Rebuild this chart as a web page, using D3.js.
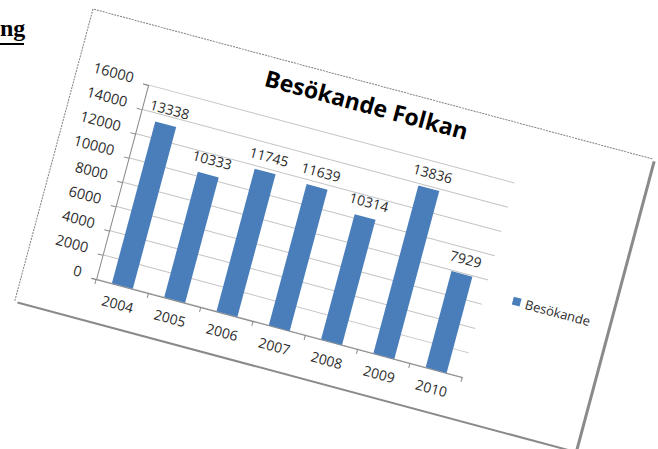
<!DOCTYPE html>
<html>
<head>
<meta charset="utf-8">
<script src="https://cdn.jsdelivr.net/npm/d3@7"></script>
<style>
  body { margin: 0; background: #fff; }
  svg { display: block; }
</style>
</head>
<body>
<div id="chart"></div>
<script>
// Data
const years = ['2004', '2005', '2006', '2007', '2008', '2009', '2010'];
const visitors = [13338, 10333, 11745, 11639, 10314, 13836, 7929];
const yTicks = [0, 2000, 4000, 6000, 8000, 10000, 12000, 14000, 16000];
const seriesName = 'Besökande';
const chartTitle = 'Besökande Folkan';

const W = 658, H = 449;
const frameW = 580, frameH = 302;
const plot = { left: 73, right: 452, top: 59, bottom: 260 };

const svg = d3.select('#chart')
    .append('svg')
    .attr('width', W)
    .attr('height', H);

// Cut-off heading at the top left
svg.append('text')
    .attr('x', 0)
    .attr('y', 36)
    .style('font-family', '"Liberation Serif", serif')
    .style('font-weight', 'bold')
    .style('font-size', '24px')
    .style('fill', '#000')
    .text('ng');
svg.append('rect')
    .attr('x', 0)
    .attr('y', 43)
    .attr('width', 24)
    .attr('height', 2)
    .attr('fill', '#000');

// Rotated chart picture
const g = svg.append('g')
    .attr('transform', 'translate(93,9) rotate(15)');

// shadow + frame
g.append('rect')
    .attr('x', 3).attr('y', 2)
    .attr('width', frameW).attr('height', frameH)
    .attr('fill', '#8a8a8a');
g.append('rect')
    .attr('width', frameW).attr('height', frameH)
    .attr('fill', '#fff');
g.append('path')
    .attr('d', `M0,${frameH} L0,0 L${frameW},0`)
    .attr('fill', 'none')
    .attr('stroke', '#808080')
    .attr('stroke-width', 1)
    .attr('stroke-dasharray', '2,1');

// Scales
const x = d3.scaleBand()
    .domain(years)
    .range([plot.left, plot.right])
    .paddingInner(0.6)
    .paddingOuter(0.3);
const band = (plot.right - plot.left) / years.length;

const y = d3.scaleLinear()
    .domain([0, 16000])
    .range([plot.bottom, plot.top]);

// Gridlines
g.append('g')
    .selectAll('line')
    .data(yTicks)
    .enter()
    .append('line')
    .attr('x1', plot.left)
    .attr('x2', plot.right)
    .attr('y1', d => y(d))
    .attr('y2', d => y(d))
    .attr('stroke', '#c4c4c4')
    .attr('stroke-width', 1);

const textFont = '"Open Sans", sans-serif';
const textColor = '#2b2b2b';

// Y axis
const yAxis = g.append('g')
    .attr('transform', `translate(${plot.left},0)`)
    .call(d3.axisLeft(y).tickValues(yTicks).tickFormat(d3.format('d')).tickSize(5).tickPadding(11));
yAxis.select('.domain').attr('stroke', '#8a8a8a');
yAxis.selectAll('.tick line').attr('stroke', '#8a8a8a');
yAxis.selectAll('text')
    .attr('dy', '0.12em')
    .style('font-family', textFont)
    .style('font-size', '14.5px')
    .style('fill', textColor);

// X axis
const xAxis = g.append('g')
    .attr('transform', `translate(0,${plot.bottom})`)
    .call(d3.axisBottom(x).tickSize(0).tickPadding(14));
xAxis.select('.domain').attr('stroke', '#8a8a8a');
xAxis.selectAll('text')
    .style('font-family', textFont)
    .style('font-size', '14px')
    .style('fill', textColor);
xAxis.selectAll('.sep')
    .data(d3.range(years.length + 1))
    .enter()
    .append('line')
    .attr('class', 'sep')
    .attr('x1', i => plot.left + i * band)
    .attr('x2', i => plot.left + i * band)
    .attr('y1', 0)
    .attr('y2', 5)
    .attr('stroke', '#8a8a8a');

// Bars
g.selectAll('.bar')
    .data(visitors)
    .enter()
    .append('rect')
    .attr('class', 'bar')
    .attr('x', (d, i) => x(years[i]))
    .attr('y', d => y(d))
    .attr('width', x.bandwidth())
    .attr('height', d => y(0) - y(d))
    .attr('fill', '#4a7ebb');

// Data labels
g.selectAll('.lbl')
    .data(visitors)
    .enter()
    .append('text')
    .attr('class', 'lbl')
    .attr('x', (d, i) => x(years[i]) + x.bandwidth() / 2)
    .attr('y', d => y(d) - 10)
    .attr('text-anchor', 'middle')
    .style('font-family', textFont)
    .style('font-size', '14px')
    .style('fill', textColor)
    .text(d => d);

// Title
g.append('text')
    .attr('x', 289)
    .attr('y', 30)
    .attr('text-anchor', 'middle')
    .style('font-family', textFont)
    .style('font-weight', 'bold')
    .style('font-size', '23px')
    .style('fill', '#000')
    .text(chartTitle);

// Legend
const legend = g.append('g')
    .attr('transform', 'translate(481,169)');
legend.append('rect')
    .attr('width', 8)
    .attr('height', 8)
    .attr('fill', '#4a7ebb');
legend.append('text')
    .attr('x', 13)
    .attr('y', 9)
    .style('font-family', textFont)
    .style('font-size', '13px')
    .style('fill', textColor)
    .text(seriesName);
</script>
</body>
</html>
